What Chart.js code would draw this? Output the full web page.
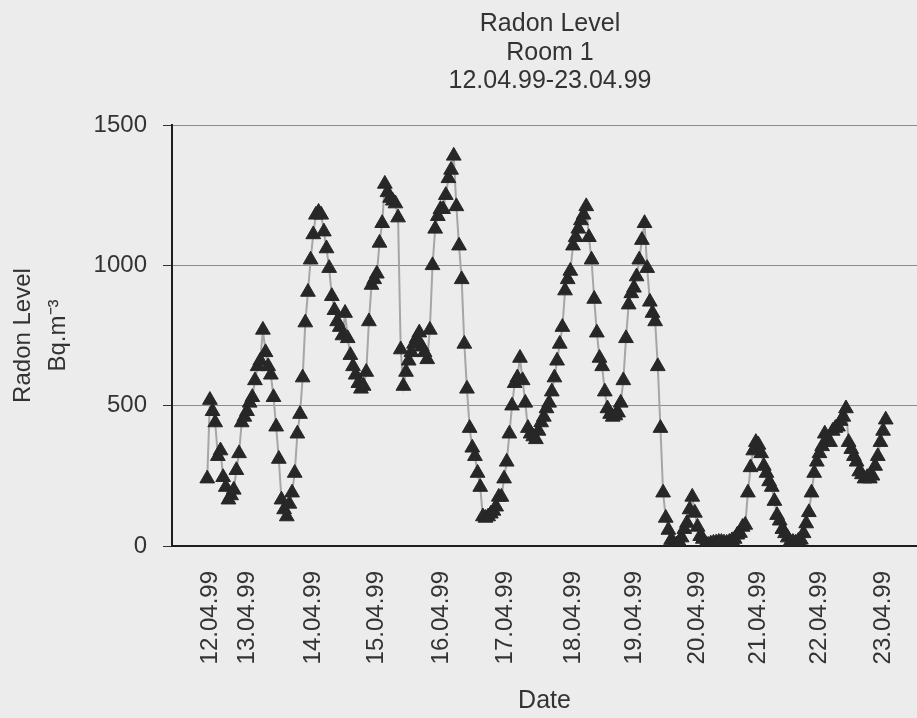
<!DOCTYPE html>
<html>
<head>
<meta charset="utf-8">
<script src="https://cdn.jsdelivr.net/npm/chart.js@4.4.1/dist/chart.umd.min.js"></script>
<style>
html, body { margin: 0; padding: 0; background: #ececec; }
#wrap { width: 917px; height: 718px; }
</style>
</head>
<body>
<div id="wrap"><canvas id="c" width="917" height="718"></canvas></div>
<script>
// ---- Chart text ----
const titleLines = ['Radon Level', 'Room 1', '12.04.99-23.04.99'];
const yAxisTitle = ['Radon Level', 'Bq.m\u207B\u00B3'];
const xAxisTitle = 'Date';

// ---- Axis ticks ----
const yTickValues = [0, 500, 1000, 1500];
const tickLabels = ['12.04.99', '13.04.99', '14.04.99', '15.04.99', '16.04.99', '17.04.99',
                    '18.04.99', '19.04.99', '20.04.99', '21.04.99', '22.04.99', '23.04.99'];
// hours since 12.04.99 00:00 at which each date label sits
const tickHours = [10, 24, 49, 73, 97.5, 121.5, 147, 170, 194, 217, 240, 264];

// ---- Series: hourly radon readings (Bq.m-3), first reading at hour 9 of 12.04.99 ----
const firstHour = 9;
const radon = [
  240, 520, 480, 440, 320, 340, 245, 210, 165, 180,
  200, 270, 330, 440, 460, 480, 510, 530, 590, 640,
  660, 770, 690, 640, 610, 530, 425, 310, 165, 130,
  105, 150, 190, 260, 400, 470, 600, 796, 905, 1020,
  1110, 1180, 1190, 1180, 1120, 1060, 990, 890, 840, 800,
  780, 750, 830, 740, 680, 640, 610, 580, 560, 570,
  620, 800, 930, 950, 970, 1080, 1150, 1290, 1260, 1240,
  1230, 1220, 1170, 700, 570, 620, 660, 690, 720, 740,
  760, 710, 690, 665, 770, 1000, 1130, 1175, 1200, 1200,
  1250, 1310, 1340, 1390, 1210, 1070, 950, 720, 560, 420,
  350, 320, 260, 210, 105, 100, 105, 115, 125, 140,
  175, 175, 240, 300, 400, 500, 580, 600, 670, 590,
  510, 420, 400, 390, 380, 410, 440, 460, 490, 510,
  550, 600, 660, 720, 780, 910, 950, 980, 1070, 1100,
  1130, 1160, 1180, 1210, 1100, 1020, 880, 760, 670, 640,
  550, 490, 470, 460, 465, 475, 510, 590, 740, 860,
  900, 920, 960, 1020, 1090, 1150, 990, 870, 830, 800,
  640, 420, 190, 100, 57, 21, 10, 5, 15, 30,
  60, 82, 130, 175, 118, 68, 35, 25, 8, 4,
  8, 11, 12, 14, 14, 12, 11, 14, 20, 25,
  40, 46, 68, 75, 190, 280, 340, 370, 360, 330,
  285, 260, 230, 210, 160, 110, 90, 60, 45, 30,
  15, 14, 12, 18, 22, 45, 80, 120, 190, 260,
  300, 330, 355, 400, 380, 370, 410, 420, 425, 445,
  460, 490, 370, 345, 320, 300, 265, 255, 240, 245,
  240, 250, 285, 320, 370, 410, 450
];

const FONT = '"Liberation Sans", Arial, sans-serif';
const TEXT = '#333333';

const points = radon.map((v, i) => ({ x: firstHour + i, y: v }));

const bgPlugin = {
  id: 'bg',
  beforeDraw(chart) {
    const c = chart.ctx;
    c.save();
    c.fillStyle = '#ececec';
    c.fillRect(0, 0, chart.width, chart.height);
    c.restore();
  }
};

const titlePlugin = {
  id: 'multiTitle',
  afterDraw(chart) {
    const c = chart.ctx;
    c.save();
    c.fillStyle = TEXT;
    c.font = '25px ' + FONT;
    c.textAlign = 'center';
    c.textBaseline = 'alphabetic';
    const baselines = [31, 60, 88];
    titleLines.forEach((t, i) => c.fillText(t, 550, baselines[i]));
    c.restore();
  }
};

new Chart(document.getElementById('c'), {
  type: 'line',
  data: {
    datasets: [{
      data: points,
      borderColor: '#a6a6a6',
      borderWidth: 2,
      tension: 0,
      pointStyle: 'triangle',
      pointRadius: 8.5,
      pointBackgroundColor: '#272727',
      pointBorderColor: '#272727',
      pointBorderWidth: 1
    }]
  },
  options: {
    responsive: false,
    animation: false,
    devicePixelRatio: 1,
    layout: { autoPadding: false, padding: { top: 125, right: 0, left: 0, bottom: 0 } },
    plugins: {
      legend: { display: false },
      title: { display: false },
      tooltip: { enabled: false }
    },
    scales: {
      x: {
        type: 'linear',
        position: 'bottom',
        min: -4.3,
        max: 276.8,
        afterBuildTicks: s => { s.ticks = tickHours.map(v => ({ value: v })); },
        afterFit: s => { s.height = 172; s.paddingLeft = 0; s.paddingRight = 0; },
        grid: { display: false, drawTicks: false },
        border: { display: true, color: '#1e1e1e', width: 2 },
        ticks: {
          autoSkip: false,
          maxRotation: 90,
          minRotation: 90,
          padding: 25,
          color: TEXT,
          font: { family: FONT, size: 24 },
          callback: (v, i) => tickLabels[i]
        },
        title: {
          display: true,
          text: xAxisTitle,
          color: TEXT,
          font: { family: FONT, size: 25 },
          padding: { top: 0, bottom: 2 }
        }
      },
      y: {
        min: 0,
        max: 1500,
        afterBuildTicks: s => { s.ticks = yTickValues.map(v => ({ value: v })); },
        afterFit: s => { s.width = 172; },
        grid: {
          color: c => (c.tick && c.tick.value === 0) ? 'rgba(0,0,0,0)' : '#8c8c8c',
          lineWidth: 1,
          drawTicks: true,
          tickLength: 9,
          tickColor: '#333333'
        },
        border: { display: true, color: '#1e1e1e', width: 2 },
        ticks: {
          padding: 16,
          color: TEXT,
          font: { family: FONT, size: 24 },
          callback: v => String(v)
        },
        title: {
          display: true,
          text: yAxisTitle,
          color: TEXT,
          font: { family: FONT, size: 24, lineHeight: '35px' },
          padding: { top: 5.5, bottom: 0 }
        }
      }
    }
  },
  plugins: [bgPlugin, titlePlugin]
});
</script>
</body>
</html>
